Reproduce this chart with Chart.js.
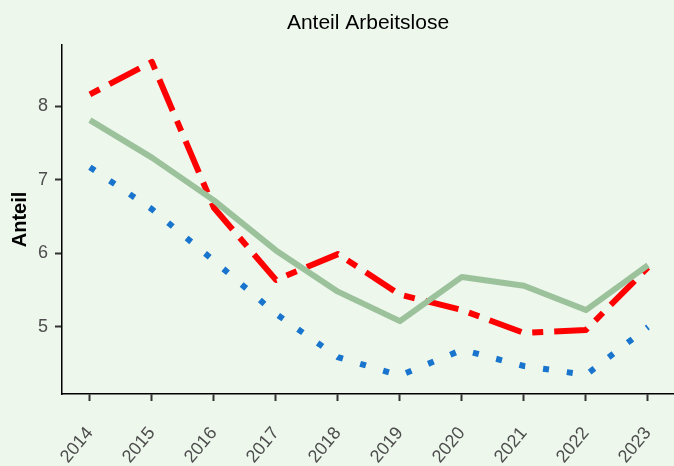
<!DOCTYPE html>
<html>
<head>
<meta charset="utf-8">
<script src="https://cdn.jsdelivr.net/npm/chart.js@4"></script>
<style>
  html, body { margin: 0; padding: 0; background: #edf7ec; }
  #wrap { width: 674px; height: 466px; }
</style>
</head>
<body>
<div id="wrap"><canvas id="chart" width="674" height="466"></canvas></div>
<script>
// data
const years = [2014, 2015, 2016, 2017, 2018, 2019, 2020, 2021, 2022, 2023];
const yTicks = [5, 6, 7, 8];
const seriesGreen = [7.81, 7.30, 6.72, 6.04, 5.48, 5.08, 5.68, 5.56, 5.23, 5.84];
const seriesRed   = [8.16, 8.60, 6.62, 5.64, 5.99, 5.44, 5.23, 4.92, 4.96, 5.81];
const seriesBlue  = [7.17, 6.60, 5.90, 5.18, 4.59, 4.34, 4.69, 4.47, 4.35, 5.00];

const chartTitle = 'Anteil Arbeitslose';
const yTitle = 'Anteil';

function toPoints(vals) {
  return years.map((yr, i) => ({ x: yr, y: vals[i] }));
}

// title centred over the plot panel, like ggplot does
const panelTitle = {
  id: 'panelTitle',
  afterDraw(chart) {
    const ctx = chart.ctx;
    const a = chart.chartArea;
    ctx.save();
    ctx.font = '21px "Liberation Sans", Arial, sans-serif';
    ctx.fillStyle = '#000';
    ctx.textAlign = 'center';
    ctx.textBaseline = 'middle';
    ctx.fillText(chartTitle, (a.left + a.right) / 2, 23);
    ctx.restore();
  }
};

const tickFont = { family: '"Liberation Sans", Arial, sans-serif', size: 18 };

new Chart(document.getElementById('chart').getContext('2d'), {
  type: 'line',
  data: {
    datasets: [
      {
        data: toPoints(seriesGreen),
        borderColor: '#9cc29c',
        borderWidth: 6,
        pointRadius: 0,
        tension: 0,
        borderJoinStyle: 'round'
      },
      {
        data: toPoints(seriesRed),
        borderColor: '#ff0000',
        borderWidth: 6,
        borderDash: [11, 11, 34, 11],
        borderCapStyle: 'butt',
        pointRadius: 0,
        tension: 0,
        borderJoinStyle: 'round'
      },
      {
        data: toPoints(seriesBlue),
        borderColor: '#1874cd',
        borderWidth: 6,
        borderDash: [6, 18],
        borderCapStyle: 'butt',
        pointRadius: 0,
        tension: 0
      }
    ]
  },
  options: {
    responsive: false,
    animation: false,
    layout: { padding: { top: 45, left: 0, right: 0, bottom: 0 } },
    scales: {
      x: {
        type: 'linear',
        min: 2013.55,
        max: 2023.42,
        afterBuildTicks: s => { s.ticks = years.map(v => ({ value: v })); },
        afterFit: s => {
          s.height = 72;
          s.paddingLeft = 0;
          s.paddingRight = 0;
        },
        ticks: {
          font: tickFont,
          color: '#4d4d4d',
          minRotation: 50,
          maxRotation: 50,
          padding: 22,
          autoSkip: false,
          callback: v => String(v)
        },
        grid: {
          drawOnChartArea: false,
          tickLength: 7,
          tickColor: '#333',
          tickWidth: 2
        },
        border: { color: '#000', width: 1.5 }
      },
      y: {
        min: 4.09,
        max: 8.83,
        afterBuildTicks: s => { s.ticks = yTicks.map(v => ({ value: v })); },
        afterFit: s => {
          s.width = 62;
          s.paddingTop = 0;
          s.paddingBottom = 0;
        },
        ticks: {
          font: tickFont,
          color: '#4d4d4d',
          padding: 7
        },
        grid: {
          drawOnChartArea: false,
          tickLength: 7,
          tickColor: '#333',
          tickWidth: 2
        },
        border: { color: '#000', width: 1.5 },
        title: {
          display: true,
          text: yTitle,
          color: '#000',
          font: { family: '"Liberation Sans", Arial, sans-serif', size: 20, weight: 'bold' },
          padding: { top: 8, bottom: 0 }
        }
      }
    },
    plugins: {
      legend: { display: false },
      title: { display: false },
      tooltip: { enabled: false }
    }
  },
  plugins: [panelTitle]
});
</script>
</body>
</html>
